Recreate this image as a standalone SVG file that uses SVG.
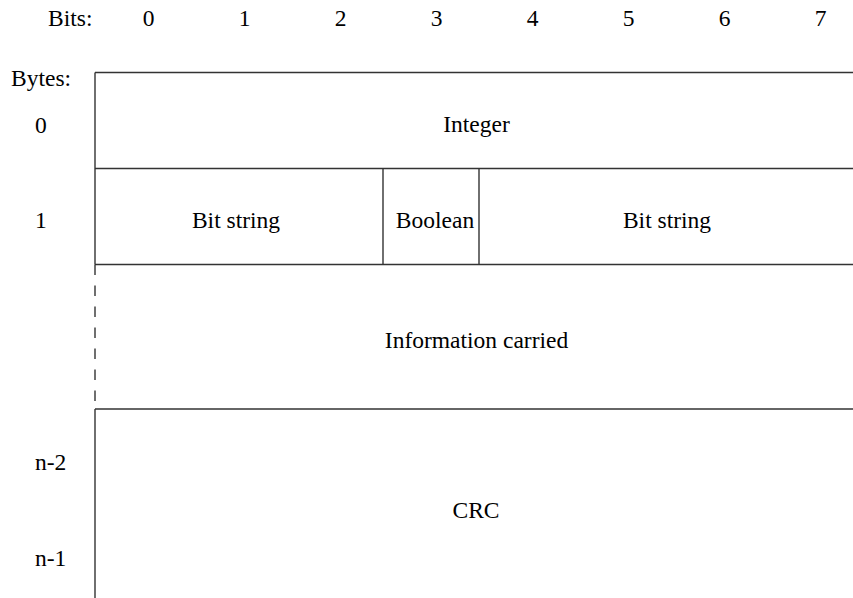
<svg xmlns="http://www.w3.org/2000/svg" width="853" height="598" viewBox="0 0 853 598">
  <style>
    text { font-family: 'Liberation Serif', 'DejaVu Serif', serif; font-size: 23.5px; fill: #000; }
    .mid { text-anchor: middle; }
    .rule { stroke: #333; stroke-width: 1.4; fill: none; }
    .dash { stroke-dasharray: 10.5 10.5; }
  </style>
  <rect width="853" height="598" fill="#fff"/>

  <!-- bit column header -->
  <g id="bit-header">
    <text x="48" y="26">Bits:</text>
    <text class="mid" x="148.5" y="26">0</text>
    <text class="mid" x="244.5" y="26">1</text>
    <text class="mid" x="340.5" y="26">2</text>
    <text class="mid" x="436.5" y="26">3</text>
    <text class="mid" x="532.5" y="26">4</text>
    <text class="mid" x="628.5" y="26">5</text>
    <text class="mid" x="724.5" y="26">6</text>
    <text class="mid" x="820.5" y="26">7</text>
  </g>

  <!-- byte row labels -->
  <g id="byte-header">
    <text x="11" y="86">Bytes:</text>
    <text x="35" y="133">0</text>
    <text x="35" y="228">1</text>
    <text x="35" y="470">n-2</text>
    <text x="35" y="566">n-1</text>
  </g>

  <!-- field boundaries -->
  <g id="connectors">
    <line class="rule" x1="95" y1="72.5" x2="853" y2="72.5"/>
    <line class="rule" x1="95" y1="168.5" x2="853" y2="168.5"/>
    <line class="rule" x1="95" y1="264.5" x2="853" y2="264.5"/>
    <line class="rule" x1="95" y1="409" x2="853" y2="409"/>
    <line class="rule" x1="95" y1="72.5" x2="95" y2="264.5"/>
    <line class="rule dash" x1="95" y1="264.5" x2="95" y2="409"/>
    <line class="rule" x1="95" y1="409" x2="95" y2="598"/>
    <line class="rule" x1="383" y1="168.5" x2="383" y2="264.5"/>
    <line class="rule" x1="479" y1="168.5" x2="479" y2="264.5"/>
  </g>

  <g id="field-integer">
    <text class="mid" x="476.5" y="132">Integer</text>
  </g>
  <g id="field-bitstring-1">
    <text class="mid" x="236" y="228">Bit string</text>
  </g>
  <g id="field-boolean">
    <text class="mid" x="435" y="228">Boolean</text>
  </g>
  <g id="field-bitstring-2">
    <text class="mid" x="667" y="228">Bit string</text>
  </g>
  <g id="field-information">
    <text class="mid" x="476.5" y="348">Information carried</text>
  </g>
  <g id="field-crc">
    <text class="mid" x="476" y="518">CRC</text>
  </g>
</svg>
